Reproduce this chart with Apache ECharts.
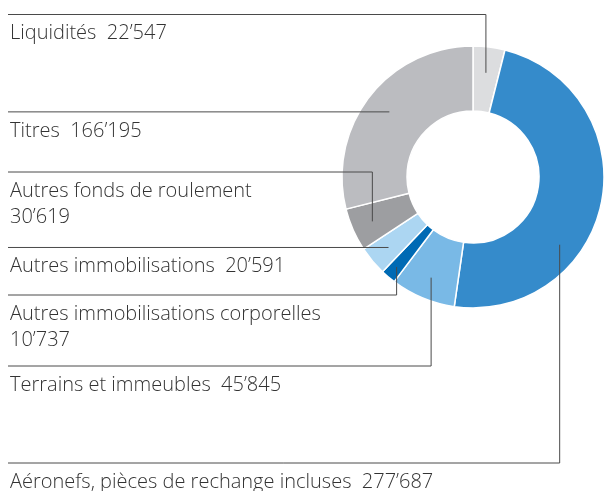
<!DOCTYPE html>
<html>
<head>
<meta charset="utf-8">
<script src="https://cdn.jsdelivr.net/npm/echarts@6/dist/echarts.min.js"></script>
<style>
  html, body { margin: 0; padding: 0; background: #fff; }
  #chart { width: 604px; height: 491px; }
</style>
</head>
<body>
<div id="chart"></div>
<script>
// données (dans l'ordre horaire, depuis midi)
const names = [
  'Liquidités',
  'Aéronefs, pièces de rechange incluses',
  'Terrains et immeubles',
  'Autres immobilisations corporelles',
  'Autres immobilisations',
  'Autres fonds de roulement',
  'Titres'
]
const values = [22547, 277687, 45845, 10737, 20591, 30619, 166195]
const colors = ['#dcdddf', '#358bcb', '#79b9e6', '#006ab4', '#acd6f2', '#9d9ea1', '#bbbcc0']
// valeur sur une deuxième ligne ?
const wrapped = [false, false, false, true, false, true, false]

// mise en page des étiquettes
const center = [473, 177]
const radius = [66, 131]
const lineY = [14.5, 463, 366, 295, null, 172, null]   // null = ligne droite à hauteur du point d'ancrage
const anchorAngle = [null, 128, null, null, null, null, null] // null = milieu du secteur
const anchorR = [105, 110, 109, 118, 110, 110, 106]

const total = values.reduce((a, b) => a + b, 0)

function fmt(v) {
  return String(v).replace(/\B(?=(\d{3})+(?!\d))/g, '’')
}

// point d'ancrage du trait dans l'anneau
function anchor(i) {
  let start = 0
  for (let k = 0; k < i; k++) start += values[k]
  const deg = anchorAngle[i] != null ? anchorAngle[i] : (start + values[i] / 2) / total * 360
  const a = deg * Math.PI / 180
  return [center[0] + anchorR[i] * Math.sin(a), center[1] - anchorR[i] * Math.cos(a)]
}

function leader(i) {
  const p = anchor(i)
  const y = lineY[i] != null ? lineY[i] : p[1]
  return { y: y, points: [p, [p[0], y], [8, y]] }
}

const chart = echarts.init(document.getElementById('chart'), null, { renderer: 'canvas' })

chart.setOption({
  animation: false,
  backgroundColor: '#fff',
  series: [{
    type: 'pie',
    center: center,
    radius: radius,
    startAngle: 90,
    clockwise: true,
    avoidLabelOverlap: false,
    emphasis: { disabled: true },
    itemStyle: { borderColor: '#fff', borderWidth: 1.5 },
    label: {
      show: true,
      position: 'outside',
      color: '#333',
      fontFamily: 'Open Sans',
      fontWeight: 300,
      fontSize: 20,
      lineHeight: 26,
      formatter: p => p.name + (wrapped[p.dataIndex] ? '\n' : '  ') + fmt(p.value)
    },
    labelLine: { show: false },
    labelLayout: function (params) {
      const l = leader(params.dataIndex)
      return { x: 10, y: l.y + 6, align: 'left', verticalAlign: 'top' }
    },
    data: names.map((n, i) => ({
      name: n,
      value: values[i],
      itemStyle: { color: colors[i] }
    }))
  }, {
    // traits de rappel, par-dessus l'anneau
    type: 'custom',
    coordinateSystem: 'none',
    z: 5,
    silent: true,
    data: values.map((v, i) => i),
    renderItem: function (params) {
      return {
        type: 'polyline',
        shape: { points: leader(params.dataIndex).points },
        style: { stroke: '#4a4a4a', lineWidth: 1, fill: null }
      }
    }
  }]
})
</script>
</body>
</html>
